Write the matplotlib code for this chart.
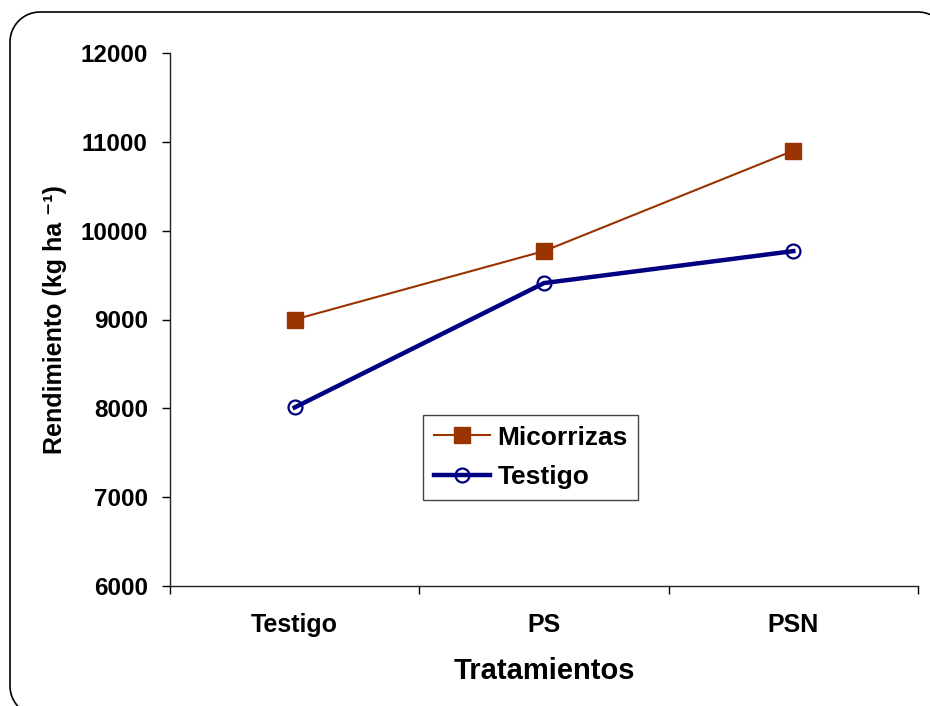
import numpy as np
import matplotlib.pyplot as plt
from matplotlib.lines import Line2D

# 데이터
tratamientos = ['Testigo', 'PS', 'PSN']
micorrizas = [9000, 9770, 10900]
testigo = [8010, 9410, 9770]
y_ticks = [6000, 7000, 8000, 9000, 10000, 11000, 12000]

plt.rcParams['font.family'] = ['Liberation Sans', 'DejaVu Sans']

W, H = 930, 706
fig = plt.figure(figsize=(W / 100, H / 100), dpi=100)
ax = fig.add_axes([170 / W, 1 - 586 / H, 748 / W, 533 / H])

# 바깥 둥근 테두리 (픽셀 좌표 -> figure 비율)
x0, x1, top, bot, r = 10, 948, 12, 716, 30
pts = []
for cx, cy, a0 in [(x1 - r, top + r, 0), (x0 + r, top + r, 90),
                   (x0 + r, bot - r, 180), (x1 - r, bot - r, 270)]:
    t = np.radians(np.linspace(a0, a0 + 90, 20))
    pts += [(cx + r * np.cos(a), cy - r * np.sin(a)) for a in t]
pts.append(pts[0])
bx = [p[0] / W for p in pts]
by = [1 - p[1] / H for p in pts]
fig.add_artist(Line2D(bx, by, transform=fig.transFigure, color='black',
                      linewidth=1.2, clip_on=False))

x = list(range(len(tratamientos)))
ax.plot(x, micorrizas, color='#993300', linewidth=1.5, marker='s',
        markersize=11, markerfacecolor='#993300', markeredgecolor='#993300',
        label='Micorrizas', clip_on=False, zorder=3)
ax.plot(x, testigo, color='#000080', linewidth=3.2, marker='o',
        markersize=10, markerfacecolor='none', markeredgecolor='#000080',
        markeredgewidth=1.6, label='Testigo', clip_on=False, zorder=4)

ax.set_xlim(-0.5, 2.5)
ax.set_ylim(6000, 12000)
ax.set_yticks(y_ticks)
ax.set_yticklabels([str(v) for v in y_ticks], fontsize=17.5, fontweight='bold')

# x축: 경계에 눈금, 범주 이름은 가운데
ax.set_xticks([-0.5, 0.5, 1.5, 2.5])
ax.set_xticklabels([])
ax.set_xticks(x, minor=True)
ax.set_xticklabels(tratamientos, minor=True, fontsize=18, fontweight='bold')
ax.tick_params(axis='x', which='minor', length=0, pad=19.5)
ax.tick_params(axis='x', which='major', length=5.5, width=1, direction='out')
ax.tick_params(axis='y', length=5.5, width=1, direction='out', pad=10.5)

for s in ['top', 'right']:
    ax.spines[s].set_visible(False)
for s in ['left', 'bottom']:
    ax.spines[s].set_linewidth(1)
    ax.spines[s].set_color('#222222')

ax.set_xlabel('Tratamientos', fontsize=21, fontweight='bold', labelpad=14)
ax.set_ylabel('Rendimiento (kg ha \u207b\u00b9)', fontsize=18,
              fontweight='bold', labelpad=10)

leg = ax.legend(loc='upper left', bbox_to_anchor=(423 / W, 1 - 415 / H),
                bbox_transform=fig.transFigure, fancybox=False, framealpha=1,
                edgecolor='#444444',
                prop={'weight': 'bold', 'size': 19}, handlelength=2.15,
                borderpad=0.4, labelspacing=0.6, handletextpad=0.27,
                borderaxespad=0)
leg.get_frame().set_linewidth(1)

fig.savefig('out.png', dpi=100)
